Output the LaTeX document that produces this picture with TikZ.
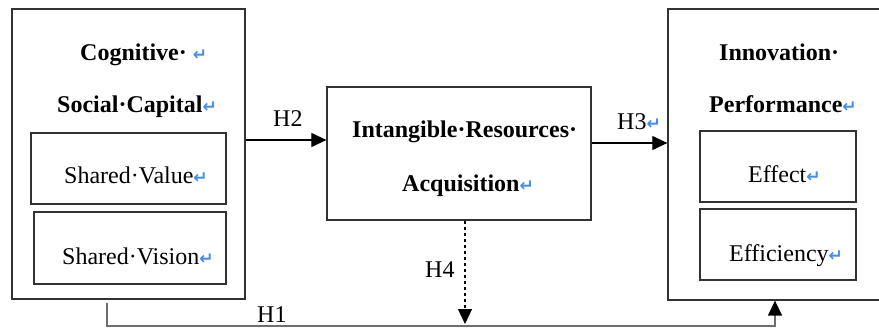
\documentclass[tikz,border=0pt]{standalone}
\usepackage{fontspec}
\setmainfont{Liberation Serif}
\newfontfamily\symfont{DejaVu Sans}
\usetikzlibrary{arrows.meta}
\definecolor{retblue}{RGB}{70,140,230}
\definecolor{boxgrey}{RGB}{50,50,50}
\definecolor{linegrey}{RGB}{110,110,110}
\newcommand\ret{{\symfont\bfseries\fontsize{17}{17}\selectfont\color{retblue}↵}}
\begin{document}
\begin{tikzpicture}[x=1pt,y=-1pt,
  box/.style={draw=boxgrey,line width=1.3pt,inner sep=0pt},
  txt/.style={anchor=base west,inner sep=0pt,font=\fontsize{24}{24}\selectfont},
  btxt/.style={txt,font=\fontsize{24}{24}\selectfont\bfseries},
  arr/.style={line width=1.2pt,draw=black,-{Triangle[length=15pt,width=14pt]}},
  garr/.style={line width=1.4pt,draw=linegrey,-{Triangle[length=15pt,width=14pt,color=black,fill=black]}},
]
\useasboundingbox (0,0) rectangle (879,329);
\fill[white] (0,0) rectangle (879,329);
% left box
\node[box,minimum width=233pt,minimum height=290pt] (L) at (128.5,154) {};
\node[box,minimum width=195pt,minimum height=71pt] (SV1) at (128.5,168.5) {};
\node[box,minimum width=192pt,minimum height=72pt] (SV2) at (130,248) {};
\node[btxt] (t1) at (80,61) {Cognitive·\ \ret};
\node[btxt] (t2) at (57,113) {Social·Capital\ret};
\node[txt] (t3) at (64,183) {Shared·Value\ret};
\node[txt] (t4) at (62,264) {Shared·Vision\ret};
% middle box
\node[box,minimum width=264pt,minimum height=133pt] (M) at (459,153.5) {};
\node[btxt] (t5) at (352,138) {Intangible·Resources·};
\node[btxt] (t6) at (402,191) {Acquisition\ret};
% right box
\node[box,minimum width=222pt,minimum height=291pt] (R) at (779,154.5) {};
\node[box,minimum width=156pt,minimum height=71pt] (E1) at (778,166.5) {};
\node[box,minimum width=156pt,minimum height=71pt] (E2) at (778,244.5) {};
\node[btxt] (t7) at (719,61) {Innovation·};
\node[btxt] (t8) at (709,113) {Performance\ret};
\node[txt] (t9) at (748,182) {Effect\ret};
\node[txt] (t10) at (729,261) {Efficiency\ret};
% connectors
\draw[arr] ([yshift=14pt]L.east) -- ([yshift=14pt]L.east -| M.west);
\node[txt] (h2) at (273,127) {H2};
\draw[arr] ([yshift=10.5pt]M.east) -- ([yshift=10.5pt]M.east -| R.west);
\node[txt] (h3) at (617,129) {H3\ret};
\coordinate (h4end) at (465,324);
\draw[arr,dashed] ([xshift=6pt]M.south) -- (h4end);
\node[txt] (h4) at (425,277) {H4};
\coordinate (h1a) at (107,326);
\coordinate (h1b) at (775,326);
\draw[garr] ([xshift=-21.5pt,yshift=-3pt]L.south) -- (h1a) -- (h1b) -- ([xshift=-4pt]R.south);
\node[txt] (h1) at (257,322) {H1};
\end{tikzpicture}
\end{document}
